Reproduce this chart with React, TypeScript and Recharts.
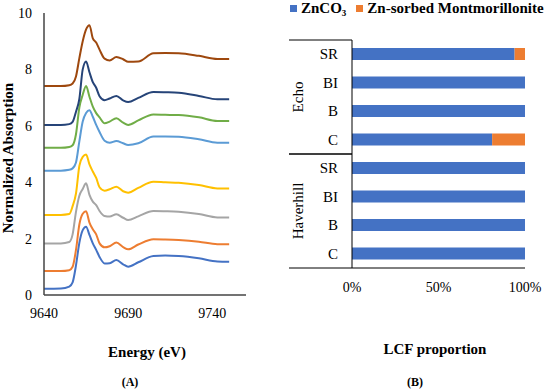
import React from "react";
import { LineChart, Line, XAxis, YAxis, BarChart, Bar, Legend } from "recharts";

const SERIF = '"Liberation Serif", "Times New Roman", serif';

// ---- (A) Zn K-edge XANES, stacked spectra ----
const energy = [
  9640, 9650, 9655, 9657, 9659, 9661, 9663, 9665, 9667, 9669, 9671, 9673,
  9676, 9679, 9683, 9687, 9690, 9696, 9705, 9712, 9720, 9732, 9743, 9750,
];

const spec1 = [0.22, 0.23, 0.3, 0.45, 1.05, 1.85, 2.3, 2.42, 2.13, 1.83, 1.6, 1.35, 1.12, 1.13, 1.24, 1.09, 1.0, 1.16, 1.38, 1.4, 1.38, 1.3, 1.19, 1.18];
const spec2 = [0.85, 0.85, 0.88, 1.0, 1.6, 2.5, 2.88, 2.97, 2.57, 2.33, 2.15, 1.83, 1.69, 1.73, 1.86, 1.7, 1.62, 1.79, 1.98, 1.97, 1.95, 1.89, 1.8, 1.8];
const spec3 = [1.83, 1.83, 1.88, 2.15, 2.95, 3.52, 3.76, 3.96, 3.55, 3.31, 3.19, 2.98, 2.8, 2.78, 2.86, 2.74, 2.66, 2.79, 2.98, 2.97, 2.95, 2.87, 2.75, 2.75];
const spec4 = [2.84, 2.84, 2.87, 3.15, 3.6, 4.58, 4.9, 4.98, 4.63, 4.38, 4.15, 3.82, 3.7, 3.75, 3.84, 3.68, 3.63, 3.8, 4.02, 4.0, 3.98, 3.9, 3.78, 3.78];
const spec5 = [4.41, 4.41, 4.44, 4.49, 4.7, 5.45, 6.15, 6.45, 6.55, 6.32, 6.03, 5.78, 5.47, 5.4, 5.46, 5.38, 5.32, 5.38, 5.62, 5.62, 5.61, 5.52, 5.4, 5.4];
const spec6 = [5.22, 5.22, 5.25, 5.31, 5.7, 6.65, 7.1, 7.41, 7.03, 6.68, 6.45, 6.3, 6.09, 6.15, 6.27, 6.11, 6.03, 6.19, 6.4, 6.39, 6.38, 6.3, 6.17, 6.17];
const spec7 = [6.03, 6.03, 6.06, 6.14, 6.5, 6.95, 8.0, 8.28, 7.9, 7.55, 7.35, 7.05, 6.91, 6.97, 7.06, 6.9, 6.84, 6.99, 7.2, 7.19, 7.17, 7.06, 6.94, 6.94];
const spec8 = [7.41, 7.41, 7.44, 7.5, 7.75, 8.4, 9.0, 9.42, 9.57, 9.1, 8.95, 8.7, 8.38, 8.32, 8.44, 8.36, 8.27, 8.28, 8.57, 8.58, 8.57, 8.48, 8.37, 8.37];

const spectra = [spec1, spec2, spec3, spec4, spec5, spec6, spec7, spec8];
const spectraColors = ["#4472C4", "#ED7D31", "#A5A5A5", "#FFC000", "#5B9BD5", "#70AD47", "#264478", "#9E480E"];

const energyTicks = [9640, 9690, 9740];
const absTicks = [0, 2, 4, 6, 8, 10];

const spectraData = energy.map((e, i) => {
  const row: Record<string, number> = { energy: e };
  spectra.forEach((s, k) => {
    row[`s${k}`] = s[i];
  });
  return row;
});

// ---- (B) LCF proportions ----
const sites = ["Echo", "Echo", "Echo", "Echo", "Haverhill", "Haverhill", "Haverhill", "Haverhill"];
const samples = ["SR", "BI", "B", "C", "SR", "BI", "B", "C"];
const znco3 = [0.94, 1, 1, 0.81, 1, 1, 1, 1];
const montmorillonite = [0.06, 0, 0, 0.19, 0, 0, 0, 0];
const pctTicks = [0, 0.5, 1];

const lcfData = samples.map((s, i) => ({
  row: `${sites[i]}|${s}`,
  zn: znco3[i],
  mont: montmorillonite[i],
}));

// two-level category tick: sample name, plus site name and block borders
const SampleTick = (props: any) => {
  const { x, y, payload, index } = props;
  const half = payload.offset ?? 14.25;
  const site = sites[index];
  const first = sites.indexOf(site);
  const last = sites.lastIndexOf(site);
  const mid = (first + last) / 2;
  const left = x - 49;
  const right = x + 14;
  const gy = y + (mid - index) * 2 * half;
  return (
    <g>
      <text x={x} y={y} textAnchor="end" dominantBaseline="central" fontFamily={SERIF} fontSize={15} fill="#000">
        {samples[index]}
      </text>
      {index === first && <line x1={left} x2={right} y1={y - half} y2={y - half} stroke="#000" />}
      {index === last && <line x1={left} x2={right} y1={y + half} y2={y + half} stroke="#000" />}
      {index === Math.floor(mid) && (
        <text
          x={x - 40}
          y={gy}
          transform={`rotate(-90, ${x - 40}, ${gy})`}
          textAnchor="middle"
          dominantBaseline="central"
          fontFamily={SERIF}
          fontSize={15}
          fill="#000"
        >
          {site}
        </text>
      )}
    </g>
  );
};

const renderLegend = (props: any) => {
  const items = [...(props.payload || [])].sort((a: any, b: any) =>
    a.dataKey === "zn" ? -1 : b.dataKey === "zn" ? 1 : 0
  );
  return (
    <div style={{ display: "flex", alignItems: "center", whiteSpace: "nowrap" }}>
      {items.map((it: any) => (
        <span key={it.value} style={{ display: "flex", alignItems: "center", marginRight: 10 }}>
          <span style={{ width: 7, height: 7, background: it.color, marginRight: 4 }} />
          <span style={{ fontFamily: SERIF, fontWeight: "bold", fontSize: 15, color: "#000" }}>{it.value}</span>
        </span>
      ))}
    </div>
  );
};

const titleStyle: React.CSSProperties = {
  position: "absolute",
  fontFamily: SERIF,
  fontWeight: "bold",
  fontSize: 15,
  color: "#000",
  whiteSpace: "nowrap",
  transform: "translate(-50%, -50%)",
};

export default function App() {
  const tick = { fill: "#000", fontSize: 14, fontFamily: SERIF };
  return (
    <div
      style={{
        position: "absolute",
        left: 0,
        top: 0,
        width: 550,
        height: 391,
        background: "#fff",
        fontFamily: SERIF,
      }}
    >
      <div style={{ position: "absolute", left: 0, top: 0 }}>
        <LineChart
          width={275}
          height={391}
          data={spectraData}
          margin={{ top: 13, right: 29, left: 10, bottom: 66 }}
        >
          <XAxis
            dataKey="energy"
            type="number"
            domain={[9640, 9760]}
            ticks={energyTicks}
            interval={0}
            tickLine={false}
            tickSize={0}
            tickMargin={13}
            height={30}
            axisLine={{ stroke: "#444", strokeWidth: 1.5 }}
            tick={tick}
          />
          <YAxis
            type="number"
            domain={[0, 10]}
            ticks={absTicks}
            interval={0}
            width={34}
            tickLine={false}
            tickSize={0}
            tickMargin={12}
            axisLine={{ stroke: "#444", strokeWidth: 1.5 }}
            tick={tick}
          />
          {spectra.map((_, k) => (
            <Line
              key={k}
              dataKey={`s${k}`}
              type="monotone"
              stroke={spectraColors[k]}
              strokeWidth={2}
              dot={false}
              isAnimationActive={false}
            />
          ))}
        </LineChart>
      </div>

      <div style={{ position: "absolute", left: 275, top: 0 }}>
        <BarChart
          width={275}
          height={391}
          data={lcfData}
          layout="vertical"
          barSize={12}
          margin={{ top: 40, right: 25, left: 14, bottom: 93 }}
        >
          <Legend
            verticalAlign="middle"
            align="center"
            layout="horizontal"
            content={renderLegend}
            wrapperStyle={{ top: 0, left: 15, width: 280 }}
          />
          <XAxis
            type="number"
            domain={[0, 1]}
            ticks={pctTicks}
            interval={0}
            tickFormatter={(v: number) => `${Math.round(v * 100)}%`}
            tickLine={false}
            tickSize={0}
            tickMargin={14}
            height={30}
            axisLine={{ stroke: "#000", strokeWidth: 1 }}
            tick={tick}
          />
          <YAxis
            type="category"
            dataKey="row"
            interval={0}
            width={63}
            tickLine={false}
            tickSize={0}
            tickMargin={14}
            axisLine={{ stroke: "#000", strokeWidth: 1 }}
            tick={<SampleTick />}
          />
          <Bar dataKey="zn" name="ZnCO₃" stackId="a" fill="#4472C4" isAnimationActive={false} />
          <Bar
            dataKey="mont"
            name="Zn-sorbed Montmorillonite"
            stackId="a"
            fill="#ED7D31"
            isAnimationActive={false}
          />
        </BarChart>
      </div>

      <div style={{ ...titleStyle, left: 147, top: 352 }}>Energy (eV)</div>
      <div style={{ ...titleStyle, left: 435, top: 349 }}>LCF proportion</div>
      <div
        style={{
          ...titleStyle,
          left: 8,
          top: 158,
          transform: "translate(-50%, -50%) rotate(-90deg)",
        }}
      >
        Normalized Absorption
      </div>
      <div style={{ ...titleStyle, fontSize: 12, left: 130, top: 382 }}>(A)</div>
      <div style={{ ...titleStyle, fontSize: 12, left: 415, top: 382 }}>(B)</div>
    </div>
  );
}
